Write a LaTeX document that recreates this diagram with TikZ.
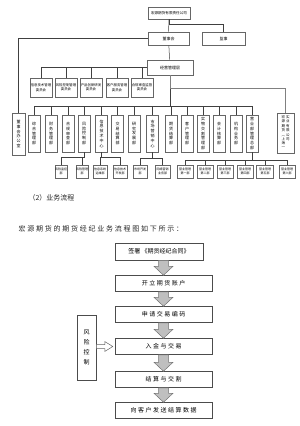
\documentclass[tikz,border=0pt]{standalone}
\usepackage{fontspec}
\setmainfont{Noto Sans CJK SC}
\newfontfamily\cjkw{Noto Sans CJK SC}[LetterSpace=25]
\usetikzlibrary{calc}

% Blockpfeile zwischen Kaesten
\newcommand{\blockpfeil}[2]{%
	\filldraw[fill=black!25, draw=black!55, line width=0.5pt] let \p1=(#1.south), \p2=(#2.north) in
		(\x2-5pt,\y1) -- (\x2+5pt,\y1) -- (\x2+5pt,\y2+9pt) -- (\x2+9.5pt,\y2+9pt) -- (\x2,\y2)
		-- (\x2-9.5pt,\y2+9pt) -- (\x2-5pt,\y2+9pt) -- cycle;}
\newcommand{\offenpfeil}[2]{%
	\filldraw[fill=white, draw=black!60, line width=0.5pt] let \p1=(#1.east), \p2=(#2.west) in
		(\x1,\y2+2pt) -- (\x2-10pt,\y2+2pt) -- (\x2-10pt,\y2+5pt) -- (\x2-2pt,\y2) -- (\x2-10pt,\y2-5pt)
		-- (\x2-10pt,\y2-2pt) -- (\x1,\y2-2pt) -- cycle;}

\begin{document}
\begin{tikzpicture}[x=1pt, y=-1pt,
	kasten/.style={draw=black!60, fill=white, line width=0.6pt, inner sep=0pt, align=center},
	org/.style={kasten, font=\fontsize{4}{4.8}\selectfont},
	abt/.style={org, minimum width=12, minimum height=37},
	ausschuss/.style={kasten, minimum width=22, minimum height=19, font=\fontsize{3.4}{4.4}\selectfont},
	unter/.style={kasten, minimum height=13, font=\fontsize{3}{3.8}\selectfont},
	fluss/.style={draw=black!70, fill=white, line width=0.5pt, minimum width=97, minimum height=16,
		font=\cjkw\fontsize{6}{7}\selectfont},
	linie/.style={draw=black!75, line width=0.5pt}]
	\useasboundingbox (0,0) rectangle (300,426);

	% Spitze
	\node[org, minimum width=42, minimum height=12, font=\fontsize{3.6}{4.4}\selectfont] (gs) at (169,13) {宏源期货有限责任公司};
	\node[org, minimum width=41, minimum height=13] (dsh) at (168.5,38.5) {董事会};
	\node[org, minimum width=43, minimum height=13] (js) at (223.5,38.5) {监事};
	\node[org, minimum width=46, minimum height=15] (jy) at (170,67.5) {经营管理层};
	\draw[linie] (gs) -- (dsh);
	\draw[linie] (gs.south) -- ++(0,5) -| (js.north);
	\draw[linie] (dsh) -- (jy);

	% Ausschuesse
	\foreach \x/\n/\t in {41/k1/{信息技术管理\\委员会}, 66/k2/{风险控制管理\\委员会}, 91/k3/{产品创新研发\\委员会},
		117/k4/{客户服务管理\\委员会}, 142/k5/{合规审查监督\\委员会}}
		\node[ausschuss] (\n) at (\x,87.5) {\t};
	\draw[linie] (jy.west) -| (k1.north);
	\foreach \k in {k2,k3,k4,k5}
		\draw[linie] (\k.north) -- (\k.north |- jy.west);

	% Abteilungen
	\node[org, minimum width=13, minimum height=42] (dbo) at (18.5,134) {董\\事\\会\\办\\公\\室};
	\draw[linie] (dsh.west) -| (dbo.north);
	\foreach \x/\n/\t in {34/d1/{综\\合\\管\\理\\部}, 51/d2/{财\\务\\管\\理\\部}, 68/d3/{合\\规\\审\\查\\部},
		84/d4/{风\\险\\控\\制\\部}, 101.5/d5/{信\\息\\技\\术\\中\\心}, 117.5/d6/{交\\易\\结\\算\\部},
		134/d7/{研\\究\\发\\展\\部}, 152.5/d8/{市\\场\\营\\销\\中\\心}, 171/d9/{期\\货\\结\\算\\部},
		187/d10/{客\\户\\管\\理\\部}, 203/d11/{实\\物\\交\\割\\管\\理\\部}, 219/d12/{会\\计\\核\\算\\部},
		236/d13/{机\\构\\业\\务\\部}, 252/d14/{营\\业\\部\\管\\理\\总\\部}}
		\node[abt] (\n) at (\x,133.5) {\t};
	\draw[linie] (jy.south) -- ++(0,32);
	\draw[linie] (d1.north) -- ++(0,-8) -| (d14.north);
	\foreach \i in {2,...,13}
		\draw[linie] (d\i.north) -- ++(0,-8);
	\node[kasten, minimum width=17, minimum height=40, font=\fontsize{3.5}{4.4}\selectfont] (rb) at (285.5,133)
		{\begin{tabular}{@{}c@{\hspace{1pt}}c@{}}宏&实\\源&业\\期&有\\货&限\\︵&公\\上&司\\海&\\︶&\end{tabular}};
	\draw[linie, draw=black!50] (jy.south) -- ++(0,13) -| (rb.north);

	% Unterabteilungen
	\foreach \x/\w/\n/\t in {61/12/s1/{风险监控\\部}, 82/12/s2/{风险管理\\部}, 100/14/s3/{信息系统\\运维部},
		120/14/s4/{信息技术\\开发部}, 140/14/s5/{市场开发\\部}, 162.5/15/s6/{网络营销\\业务部},
		185/16/s7/{营业管理\\第一部}, 205/16/s8/{营业管理\\第二部}, 225/16/s9/{营业管理\\第三部},
		245/16/s10/{营业管理\\第四部}, 265/17/s11/{营业管理\\第五部}, 287/16/s12/{营业管理\\第六部}}
		\node[unter, minimum width=\w] (\n) at (\x,171.5) {\t};
	\draw[linie] (d4.south) -- ++(0,5) coordinate (u4) -| (s1.north);
	\draw[linie] (u4) -| (s2.north);
	\draw[linie] (d5.south) -- ++(0,5) coordinate (u5) -| (s3.north);
	\draw[linie] (u5) -| (s4.north);
	\draw[linie] (d8.south) -- ++(0,6) coordinate (u8) -| (s5.north);
	\draw[linie] (u8) -| (s6.north);
	\draw[linie] (d14.south) -- ++(0,8) coordinate (u14);
	\draw[linie] (s7.north) |- (u14) -| (s12.north);
	\foreach \i in {8,...,11}
		\draw[linie] (s\i.north) -- ++(0,-5);

	% Text
	\node[anchor=west, text=black!85, font=\fontsize{7}{8}\selectfont] (ab) at (25,197.5) {（2）业务流程};
	\node[anchor=west, text=black!85, font=\cjkw\fontsize{7}{9}\selectfont] (satz) at (15,229)
		{宏源期货的期货经纪业务流程图如下所示：};

	% Ablauf
	\node[fluss, minimum width=88, minimum height=17, font=\fontsize{6}{7}\selectfont] (f1) at (159,251.5) {签署 《期货经纪合同》};
	\node[fluss] (f2) at (163.5,283.5) {开立期货账户};
	\node[fluss] (f3) at (163.5,314.5) {申请交易编码};
	\node[fluss] (f4) at (163.5,346.5) {入金与交易};
	\node[fluss] (f5) at (163.5,379.5) {结算与交割};
	\node[fluss] (f6) at (163.5,410.5) {向客户发送结算数据};
	\blockpfeil{f1}{f2}
	\blockpfeil{f2}{f3}
	\blockpfeil{f3}{f4}
	\blockpfeil{f4}{f5}
	\blockpfeil{f5}{f6}

	% Risiko
	\node[draw=black!70, line width=0.5pt, minimum width=19, minimum height=65, inner sep=0pt, align=center,
		font=\fontsize{6}{10}\selectfont] (rk) at (86.5,347.5) {风\\险\\控\\制};
	\offenpfeil{rk}{f4}
\end{tikzpicture}
\end{document}
